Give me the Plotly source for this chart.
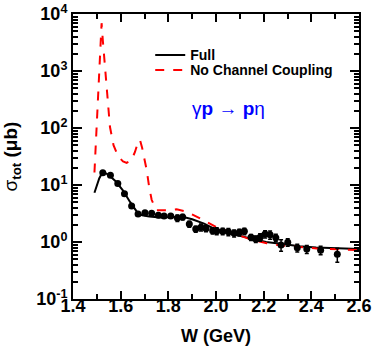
import plotly.graph_objects as go

# measured total cross section (gamma p -> p eta)
w_data = [1.525, 1.557, 1.588, 1.616, 1.646, 1.673, 1.702, 1.730, 1.758, 1.782,
          1.810, 1.838, 1.860, 1.888, 1.915, 1.937, 1.958, 1.986, 2.003, 2.028,
          2.052, 2.076, 2.098, 2.119, 2.147, 2.167, 2.185, 2.206, 2.227, 2.251,
          2.273, 2.301, 2.341, 2.381, 2.439, 2.509]
sigma_data = [16.4, 14.8, 10.6, 7.0, 4.3, 3.1, 3.25, 3.2, 2.95, 2.86,
              2.86, 2.64, 2.74, 2.07, 1.69, 1.81, 1.72, 1.58, 1.56, 1.54,
              1.51, 1.42, 1.48, 1.54, 1.21, 1.13, 1.21, 1.38, 1.34, 1.19,
              0.89, 0.99, 0.79, 0.75, 0.72, 0.61]
sigma_err = [0.5, 0.5, 0.4, 0.3, 0.2, 0.12, 0.12, 0.12, 0.2, 0.15,
             0.15, 0.35, 0.3, 0.25, 0.2, 0.25, 0.2, 0.2, 0.22, 0.2,
             0.22, 0.2, 0.2, 0.2, 0.15, 0.15, 0.18, 0.2, 0.22, 0.18,
             0.2, 0.15, 0.12, 0.12, 0.12, 0.17]

# model curves
w_full = [1.49, 1.50, 1.51, 1.525, 1.55, 1.58, 1.61, 1.64, 1.67, 1.69, 1.72,
          1.765, 1.80, 1.86, 1.90, 1.95, 2.00, 2.05, 2.10, 2.15, 2.21, 2.28,
          2.35, 2.42, 2.50, 2.60]
sigma_full = [7.3, 10.0, 13.0, 17.1, 15.0, 11.5, 8.0, 5.0, 3.3, 2.95, 2.8,
              2.7, 2.72, 2.78, 2.5, 2.1, 1.65, 1.42, 1.28, 1.15, 1.0, 0.92,
              0.84, 0.8, 0.78, 0.75]

w_nocc = [1.49, 1.497, 1.502, 1.511, 1.518, 1.52, 1.525, 1.54, 1.555, 1.57,
          1.59, 1.61, 1.625, 1.645, 1.66, 1.672, 1.681, 1.69, 1.70, 1.709,
          1.72, 1.73, 1.75, 1.79, 1.835, 1.877, 1.933, 2.003, 2.073, 2.143,
          2.213, 2.283, 2.423, 2.60]
sigma_nocc = [16.6, 60, 200, 780, 5000, 6900, 3500, 630, 105, 50,
              31.5, 26, 24.5, 27, 38, 55, 62, 45, 28, 18.4,
              9, 5.5, 3.6, 3.6, 3.74, 3.4, 2.6, 1.81, 1.42, 1.12,
              0.95, 0.86, 0.77, 0.72]

y_ticks = [0.1, 1, 10, 100, 1000, 10000]
y_ticktext = ['10<sup>-1</sup>', '10<sup>0</sup>', '10<sup>1</sup>',
              '10<sup>2</sup>', '10<sup>3</sup>', '10<sup>4</sup>']
y_minor = [k * 10.0 ** e for e in range(-1, 4) for k in range(2, 10)]

FONT = 'Liberation Sans, Arial, sans-serif'

fig = go.Figure()
fig.add_trace(go.Scatter(x=w_full, y=sigma_full, mode='lines', name='Full',
                         legend='legend',
                         line=dict(color='black', width=2)))
fig.add_trace(go.Scatter(x=w_nocc, y=sigma_nocc, mode='lines', name='No Channel Coupling',
                         legend='legend2',
                         line=dict(color='#ff0000', width=2, dash='dash')))
fig.add_trace(go.Scatter(x=w_data, y=sigma_data, mode='markers', showlegend=False,
                         marker=dict(color='black', size=7),
                         error_y=dict(type='data', array=sigma_err, color='black',
                                      thickness=1.5, width=2)))

fig.add_annotation(x=0.545, y=0.667, xref='paper', yref='paper', showarrow=False,
                   xanchor='center', yanchor='middle',
                   text='γ<b>p</b> → <b>p</b>η',
                   font=dict(family=FONT, size=19, color='#0000ff'))

axis_common = dict(showline=True, linecolor='black', linewidth=2, mirror='ticks',
                   ticks='inside', tickcolor='black', tickwidth=1.5, showgrid=False,
                   zeroline=False, automargin=False,
                   tickfont=dict(family=FONT, size=18, color='black', weight='bold'))

fig.update_xaxes(range=[1.4, 2.6], tickvals=[1.4, 1.6, 1.8, 2.0, 2.2, 2.4, 2.6],
                 ticktext=['1.4', '1.6', '1.8', '2.0', '2.2', '2.4', '2.6'],
                 ticklen=8, ticklabelstandoff=-11,
                 minor=dict(ticks='inside', ticklen=5, dtick=0.1, tickcolor='black',
                            tickwidth=1.5, showgrid=False),
                 title=dict(text='<b>W (GeV)</b>', standoff=15,
                            font=dict(family=FONT, size=18, color='black')),
                 **axis_common)
fig.update_yaxes(type='log', range=[-1, 4], tickvals=y_ticks, ticktext=y_ticktext,
                 ticklen=9,
                 minor=dict(ticks='inside', ticklen=5, tickvals=y_minor, tickcolor='black',
                            tickwidth=1.5, showgrid=False),
                 title=dict(text='σ<b><sub>tot</sub> (μb)</b>', standoff=22,
                            font=dict(family=FONT, size=19, color='black')),
                 **axis_common)

legend_common = dict(xanchor='left', yanchor='middle', bgcolor='rgba(0,0,0,0)',
                     font=dict(family=FONT, size=14, color='black', weight='bold'))
fig.update_layout(width=374, height=350, plot_bgcolor='white', paper_bgcolor='white',
                  margin=dict(l=73, r=15, t=14, b=51),
                  showlegend=True,
                  legend=dict(x=0.27, y=0.855, **legend_common),
                  legend2=dict(x=0.27, y=0.802, **legend_common))

# drop the browser's default page margin so the figure sits at the window origin
fig.write_html("out.html", config={'displayModeBar': False},
               post_script="document.body.style.margin='0';")
